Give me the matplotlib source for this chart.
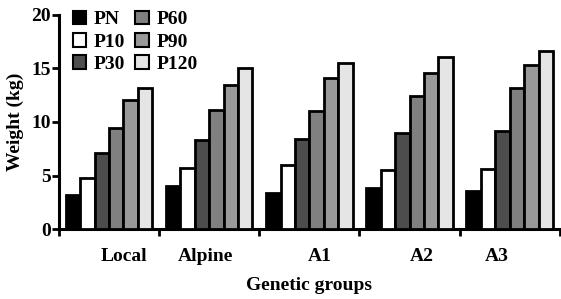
import matplotlib
matplotlib.use("Agg")
import matplotlib.pyplot as plt
import numpy as np

groups = ["Local", "Alpine", "A1", "A2", "A3"]
series = ["PN", "P10", "P30", "P60", "P90", "P120"]
PN = [3.2, 4.0, 3.35, 3.8, 3.55]
P10 = [4.75, 5.7, 6.0, 5.55, 5.6]
P30 = [7.1, 8.3, 8.4, 8.95, 9.15]
P60 = [9.4, 11.1, 11.05, 12.45, 13.2]
P90 = [12.1, 13.45, 14.1, 14.55, 15.3]
P120 = [13.2, 15.05, 15.55, 16.05, 16.6]
values = [PN, P10, P30, P60, P90, P120]
colors = ["#000000", "#ffffff", "#4d4d4d", "#808080", "#999999", "#e5e5e5"]

plt.rcParams['font.family'] = ['Liberation Serif', 'DejaVu Serif']
plt.rcParams['font.weight'] = 'bold'

fig = plt.figure(figsize=(5.61, 2.99), dpi=100)
ax = fig.add_axes([0.105, 0.234, 0.893, 0.716])

x = np.arange(len(groups))
w = 0.144
for i, (name, vals, c) in enumerate(zip(series, values, colors)):
    ax.bar(x + (i - 2.5) * w, vals, width=w, color=c, edgecolor="black",
           linewidth=2, label=name, zorder=3)

ax.set_xlim(-0.5, len(groups) - 0.5)
ax.set_ylim(0, 20)
ax.set_yticks([0, 5, 10, 15, 20])
ax.set_xticks(np.arange(len(groups) + 1) - 0.5)
ax.set_xticklabels([])
label_offsets = [0.15, -0.04, 0.10, 0.12, -0.13]
ax.set_xticks(x + np.array(label_offsets), minor=True)
ax.set_xticklabels(groups, minor=True)
ax.tick_params(axis='x', which='minor', length=0, pad=13.5, labelsize=14)
ax.tick_params(axis='x', which='major', length=5, width=2)
ax.tick_params(axis='y', length=5, width=2, labelsize=14, pad=1)

for s in ["top", "right"]:
    ax.spines[s].set_visible(False)
for s in ["left", "bottom"]:
    ax.spines[s].set_linewidth(2.2)

ax.set_ylabel("Weight (kg)", fontsize=14, fontweight='bold', labelpad=5)
ax.set_xlabel("Genetic groups", fontsize=14, fontweight='bold', labelpad=8.5)

leg = ax.legend(ncol=2, loc="upper left", bbox_to_anchor=(0.012, 1.057),
                frameon=False, fontsize=14, handlelength=0.7, handleheight=0.7,
                handletextpad=0.4, columnspacing=0.5, labelspacing=0.25,
                borderaxespad=0)
for h in leg.legend_handles:
    h.set_linewidth(1.5)

fig.savefig("out.png", dpi=100)
